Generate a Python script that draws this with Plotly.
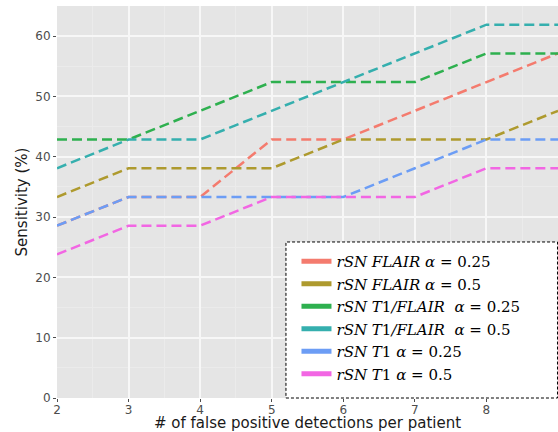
import plotly.graph_objects as go

fp_per_patient = [2, 3, 4, 5, 6, 7, 8, 9]

series_names = [
    "<i>rSN FLAIR α</i> = 0.25",
    "<i>rSN FLAIR α</i> = 0.5",
    "<i>rSN T</i>1<i>/FLAIR  α</i> = 0.25",
    "<i>rSN T</i>1<i>/FLAIR  α</i> = 0.5",
    "<i>rSN T</i>1 <i>α</i> = 0.25",
    "<i>rSN T</i>1 <i>α</i> = 0.5",
]

flair_025 = [28.57, 33.33, 33.33, 42.86, 42.86, 47.62, 52.38, 57.14]
flair_05 = [33.33, 38.10, 38.10, 38.10, 42.86, 42.86, 42.86, 47.62]
t1flair_025 = [42.86, 42.86, 47.62, 52.38, 52.38, 52.38, 57.14, 57.14]
t1flair_05 = [38.10, 42.86, 42.86, 47.62, 52.38, 57.14, 61.90, 61.90]
t1_025 = [28.57, 33.33, 33.33, 33.33, 33.33, 38.10, 42.86, 42.86]
t1_05 = [23.81, 28.57, 28.57, 33.33, 33.33, 33.33, 38.10, 38.10]

series_values = [flair_025, flair_05, t1flair_025, t1flair_05, t1_025, t1_05]
colors = ["#F47B6E", "#AE9A2E", "#2EB04F", "#35AFAE", "#6C9DF5", "#F266E3"]

fig = go.Figure()
for name, vals, c in zip(series_names, series_values, colors):
    fig.add_trace(go.Scatter(
        x=fp_per_patient, y=vals, mode="lines", showlegend=False,
        line=dict(color=c, width=2.5, dash="10px,5px"), name=name,
    ))
for name, c in zip(series_names, colors):
    fig.add_trace(go.Scatter(
        x=[None], y=[None], mode="lines", name=name,
        line=dict(color=c, width=5),
    ))

axis_common = dict(
    showline=False, zeroline=False, gridcolor="#F7F7F7", gridwidth=2,
    ticks="outside", ticklen=3, tickcolor="#4D4D4D", tickwidth=1,
    tickfont=dict(family="DejaVu Sans", size=12, color="#4D4D4D"),
    automargin=False,
)

fig.update_xaxes(
    range=[2, 9], dtick=1, tick0=2, ticklabelstandoff=-2,
    minor=dict(showgrid=True, gridcolor="#EBEBEB", dtick=0.5, tick0=2, gridwidth=1),
    title=dict(text="# of false positive detections per patient",
               font=dict(family="DejaVu Sans", size=15, color="#1a1a1a"), standoff=0),
    **axis_common,
)
fig.update_yaxes(
    range=[0, 65], dtick=10, tick0=0,
    minor=dict(showgrid=True, gridcolor="#EBEBEB", dtick=5, tick0=0, gridwidth=1),
    title=dict(text="Sensitivity (%)",
               font=dict(family="DejaVu Sans", size=15, color="#1a1a1a"), standoff=4),
    **axis_common,
)

fig.add_shape(type="rect", xref="paper", yref="paper", x0=0.457, x1=0.999, y0=0.0, y1=0.398,
              line=dict(color="black", width=1, dash="3px,2px"), fillcolor="white", layer="above")

fig.update_layout(
    width=558, height=432,
    margin=dict(l=57, r=0, t=6, b=34),
    plot_bgcolor="#E5E5E5", paper_bgcolor="white",
    legend=dict(
        x=0.478, y=0.39, xanchor="left", yanchor="top",
        bgcolor="rgba(0,0,0,0)", borderwidth=0,
        font=dict(family="DejaVu Serif", size=15, color="black"),
        tracegroupgap=0, itemwidth=30,
    ),
)

fig.write_html("out.html", config={"displayModeBar": False},
               post_script="document.body.style.margin='0';")
